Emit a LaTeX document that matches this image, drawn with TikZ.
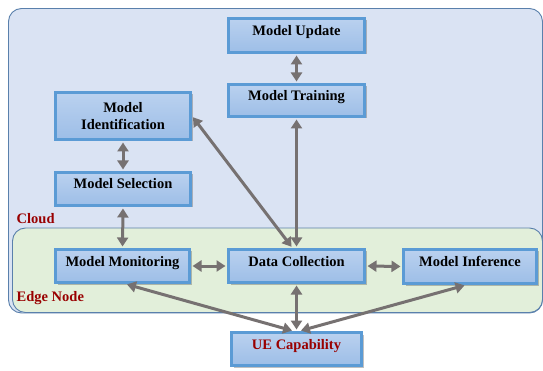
\documentclass[tikz,border=0pt]{standalone}
\usepackage{fontspec}
\setmainfont{Liberation Serif}[BoldFont={Liberation Serif Bold}]
\newfontfamily\tnrfont{Liberation Serif}[BoldFont={Liberation Serif Bold}]
\usetikzlibrary{arrows.meta,shadows}
\definecolor{cloudfill}{HTML}{DAE3F3}
\definecolor{edgefill}{HTML}{E2EFDA}
\definecolor{regionline}{HTML}{5A80AC}
\definecolor{boxline}{HTML}{5B9BD5}
\definecolor{boxtop}{HTML}{BAD1EF}
\definecolor{boxbot}{HTML}{9DBEE7}
\definecolor{arrowgray}{HTML}{767171}
\definecolor{labelred}{HTML}{990000}
\begin{document}
\begin{tikzpicture}[x=1pt,y=-1pt,
  region/.style={draw=regionline,line width=0.9pt,rounded corners=13pt},
  boxnode/.style={draw=boxline,line width=3pt,top color=boxtop,bottom color=boxbot,
    inner sep=0pt,align=center,font=\tnrfont\fontsize{14.5}{17}\selectfont\bfseries,
    drop shadow={shadow xshift=2pt,shadow yshift=-2pt,opacity=0.35,fill=black!70}},
  oneline/.style={text height=7.5pt,text depth=7.5pt},
  conn/.style={draw=arrowgray,line width=3pt,{Triangle[width=11pt,length=9pt]}-{Triangle[width=11pt,length=9pt]},shorten <=1.5pt,shorten >=1.5pt},
  regionlabel/.style={text=labelred,font=\tnrfont\fontsize{14.5}{17}\selectfont\bfseries,inner sep=0pt,anchor=base west}
]
\useasboundingbox (0,0) rectangle (543,371);
\fill[white] (0,0) rectangle (543,371);
% regions
\draw[region,fill=cloudfill] (8.5,8.5) rectangle (542.5,313);
\draw[region,fill=edgefill] (12.5,228) rectangle (542.5,312.5);
\node[regionlabel] (cloudlbl) at (16.5,223.5) {Cloud};
\node[regionlabel] (edgelbl) at (16.5,301) {Edge Node};
% boxes
\node[boxnode,oneline,minimum width=136pt,minimum height=34pt] (upd) at (296.5,35.5) {Model Update};
\node[boxnode,oneline,minimum width=136pt,minimum height=32pt] (trn) at (296.5,100.5) {Model Training};
\node[boxnode,minimum width=135pt,minimum height=47pt] (idn) at (123,116) {Model\\Identification};
\node[boxnode,oneline,minimum width=135pt,minimum height=33pt] (sel) at (123,189) {Model Selection};
\node[boxnode,oneline,minimum width=134pt,minimum height=33pt] (mon) at (122.5,266) {Model Monitoring};
\node[boxnode,oneline,minimum width=136pt,minimum height=33pt] (dc) at (296.5,266) {Data Collection};
\node[boxnode,oneline,minimum width=133pt,minimum height=34pt] (inf) at (470,266.5) {Model Inference};
\node[boxnode,oneline,minimum width=130pt,minimum height=33pt,text=labelred] (ue) at (296.5,349) {UE Capability};
% connectors
\draw[conn] (upd.south) -- (trn.north);
\draw[conn] (idn.south) -- (sel.north);
\draw[conn] (sel.south) -- (mon.north);
\draw[conn] (idn.east) -- ([xshift=-4pt]dc.north);
\draw[conn] (trn.south) -- (dc.north);
\draw[conn] (mon.east) -- (dc.west);
\draw[conn] (dc.east) -- (inf.west);
\draw[conn] (dc.south) -- (ue.north);
\draw[conn] ([xshift=3pt]mon.south) -- ([xshift=-3pt]ue.north);
\draw[conn] ([xshift=-4pt]inf.south) -- ([xshift=3pt]ue.north);
\end{tikzpicture}
\end{document}
